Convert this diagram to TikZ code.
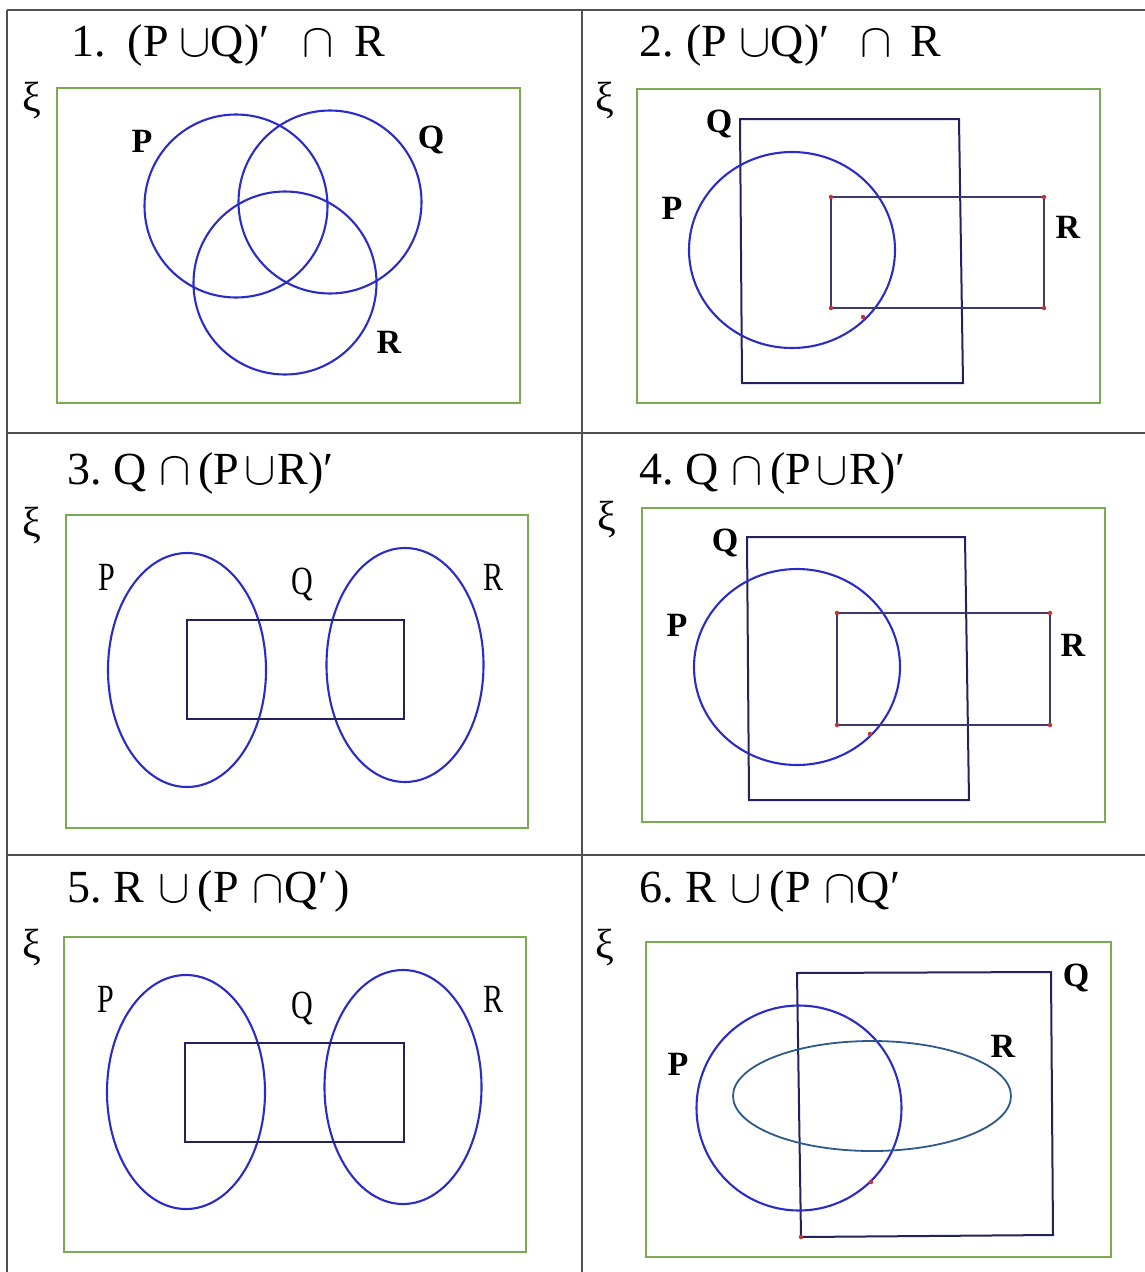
\documentclass[tikz,border=0pt]{standalone}
\usepackage{fix-cm}
\usepackage{fontspec}
\setmainfont{Liberation Serif}
\usetikzlibrary{shapes.geometric}
\definecolor{gridc}{HTML}{505050}
\definecolor{greenc}{HTML}{7AAB4E}
\definecolor{bluec}{HTML}{2B2BC8}
\definecolor{navyc}{HTML}{22225E}
\definecolor{rrectc}{HTML}{3A3A6E}
\definecolor{tealc}{HTML}{2D5A8A}
\definecolor{dotc}{HTML}{C03535}
\newcommand{\mycup}{{\fontsize{47}{50}\selectfont$\cup$}}
\newcommand{\mycap}{{\fontsize{47}{50}\selectfont$\cap$}}
\tikzset{
  gridline/.style={draw=gridc, line width=1.6pt},
  universe/.style={draw=greenc, line width=1.9pt},
  setcirc/.style={circle, draw=bluec, line width=2.1pt, inner sep=0pt},
  setell/.style={ellipse, draw=bluec, line width=2.1pt, inner sep=0pt},
  qrect/.style={draw=navyc, line width=2pt},
  rrect/.style={draw=rrectc, line width=1.8pt},
  title/.style={anchor=base west, inner sep=0pt, font=\fontsize{46}{50}\selectfont},
  xilab/.style={inner sep=0pt, font=\fontsize{42}{44}\selectfont},
  lab/.style={inner sep=0pt, font=\fontsize{34}{38}\selectfont\bfseries},
  clab/.style={inner sep=0pt, font=\fontsize{40}{44}\selectfont, xscale=0.75},
  reddot/.style={circle, fill=dotc, inner sep=0pt, minimum size=4.5pt}
}
\begin{document}
\begin{tikzpicture}[x=1pt,y=-1pt]
\useasboundingbox (0,0) rectangle (1145,1272);
% table grid
\coordinate (gTL) at (7,10);
\coordinate (gTR) at (1145,10);
\coordinate (gBL) at (7,1272);
\coordinate (gMT) at (582,10);
\coordinate (gMB) at (582,1272);
\coordinate (gR1L) at (7,433);
\coordinate (gR1R) at (1145,433);
\coordinate (gR2L) at (7,855);
\coordinate (gR2R) at (1145,855);
\draw[gridline] (gTL) -- (gTR);
\draw[gridline] (gTL) -- (gBL);
\draw[gridline] (gMT) -- (gMB);
\draw[gridline] (gR1L) -- (gR1R);
\draw[gridline] (gR2L) -- (gR2R);

% ===== Panel 1 =====
\node[title] (t1) at (71,56) {1.\hspace{22pt}(P\hspace{11pt}\mycup Q)′\hspace{33pt}\mycap\hspace{21pt}R};
\node[xilab] (xi1) at (32,101) {ξ};
\draw[universe] (57,88) rectangle (520,403);
\node[setcirc, minimum size=183pt] (P1) at (236,206) {};
\node[setcirc, minimum size=183pt] (Q1) at (330,202) {};
\node[setcirc, minimum size=183pt] (R1) at (285,283) {};
\node[lab] (lP1) at (142,141) {P};
\node[lab] (lQ1) at (431,140) {Q};
\node[lab] (lR1) at (389,342) {R};

% ===== Panel 2 =====
\node[title] (t2) at (639,56) {2.\hspace{13pt}(P\hspace{12pt}\mycup Q)′\hspace{31pt}\mycap\hspace{19pt}R};
\node[xilab] (xi2) at (605,101) {ξ};
\draw[universe] (637,89) rectangle (1100,403);
\draw[qrect] (740,119) -- (959,119) -- (963,383) -- (742,383) -- cycle;
\node[setell, minimum width=206pt, minimum height=196pt] (P2) at (792,250) {};
\draw[rrect] (831,197) rectangle (1044,308);
\node[reddot] (d2a) at (831,197) {};
\node[reddot] (d2b) at (1044,197) {};
\node[reddot] (d2c) at (1044,308) {};
\node[reddot] (d2d) at (831,308) {};
\node[reddot] (d2e) at (863,317) {};
\node[lab] (lQ2) at (719,124) {Q};
\node[lab] (lP2) at (672,208) {P};
\node[lab] (lR2) at (1068,227) {R};

% ===== Panel 3 =====
\node[title] (t3) at (67,484) {3.\hspace{12pt}Q\hspace{13pt}\mycap\hspace{7pt}(P\hspace{5pt}\mycup\hspace{2pt}R)′};
\node[xilab] (xi3) at (32,526) {ξ};
\draw[universe] (66,515) rectangle (528,828);
\node[setell, minimum width=158pt, minimum height=234pt] (P3) at (187,670) {};
\node[setell, minimum width=157pt, minimum height=234pt] (R3) at (405,665) {};
\draw[qrect] (187,620) rectangle (404,719);
\node[clab] (lP3) at (107,577) {P};
\node[clab] (lQ3) at (302,584) {Q};
\node[clab] (lR3) at (493,577) {R};

% ===== Panel 4 =====
\node[title] (t4) at (639,484) {4.\hspace{12pt}Q\hspace{13pt}\mycap\hspace{7pt}(P\hspace{5pt}\mycup\hspace{2pt}R)′};
\node[xilab] (xi4) at (607,520) {ξ};
\draw[universe] (642,508) rectangle (1105,822);
\draw[qrect] (747,537) -- (965,537) -- (969,800) -- (749,800) -- cycle;
\node[setell, minimum width=206pt, minimum height=196pt] (P4) at (797,667) {};
\draw[rrect] (837,613) rectangle (1050,725);
\node[reddot] (d4a) at (837,613) {};
\node[reddot] (d4b) at (1050,613) {};
\node[reddot] (d4c) at (1050,725) {};
\node[reddot] (d4d) at (837,725) {};
\node[reddot] (d4e) at (870,734) {};
\node[lab] (lQ4) at (725,543) {Q};
\node[lab] (lP4) at (677,625) {P};
\node[lab] (lR4) at (1073,645) {R};

% ===== Panel 5 =====
\node[title] (t5) at (67,902) {5.\hspace{12pt}R\hspace{14pt}\mycup\hspace{8pt}(P\hspace{14pt}\mycap\hspace{1pt}Q′\hspace{6pt})};
\node[xilab] (xi5) at (32,948) {ξ};
\draw[universe] (64,937) rectangle (526,1252);
\node[setell, minimum width=158pt, minimum height=234pt] (P5) at (186,1092) {};
\node[setell, minimum width=157pt, minimum height=234pt] (R5) at (403,1087) {};
\draw[qrect] (185,1043) rectangle (404,1142);
\node[clab] (lP5) at (106,999) {P};
\node[clab] (lQ5) at (302,1008) {Q};
\node[clab] (lR5) at (493,999) {R};

% ===== Panel 6 =====
\node[title] (t6) at (639,902) {6.\hspace{12pt}R\hspace{14pt}\mycup\hspace{8pt}(P\hspace{14pt}\mycap\hspace{1pt}Q′};
\node[xilab] (xi6) at (605,948) {ξ};
\draw[universe] (646,942) rectangle (1111,1257);
\draw[qrect] (797,973) -- (1051,972) -- (1053,1235) -- (801,1237) -- cycle;
\node[setcirc, minimum size=205pt] (P6) at (799,1108) {};
\node[ellipse, draw=tealc, line width=1.8pt, inner sep=0pt, minimum width=278pt, minimum height=110pt] (R6) at (872,1096) {};
\node[reddot] (d6a) at (801,1237) {};
\node[reddot] (d6b) at (871,1182) {};
\node[lab] (lQ6) at (1076,978) {Q};
\node[lab] (lP6) at (678,1064) {P};
\node[lab] (lR6) at (1003,1046) {R};
\end{tikzpicture}
\end{document}
